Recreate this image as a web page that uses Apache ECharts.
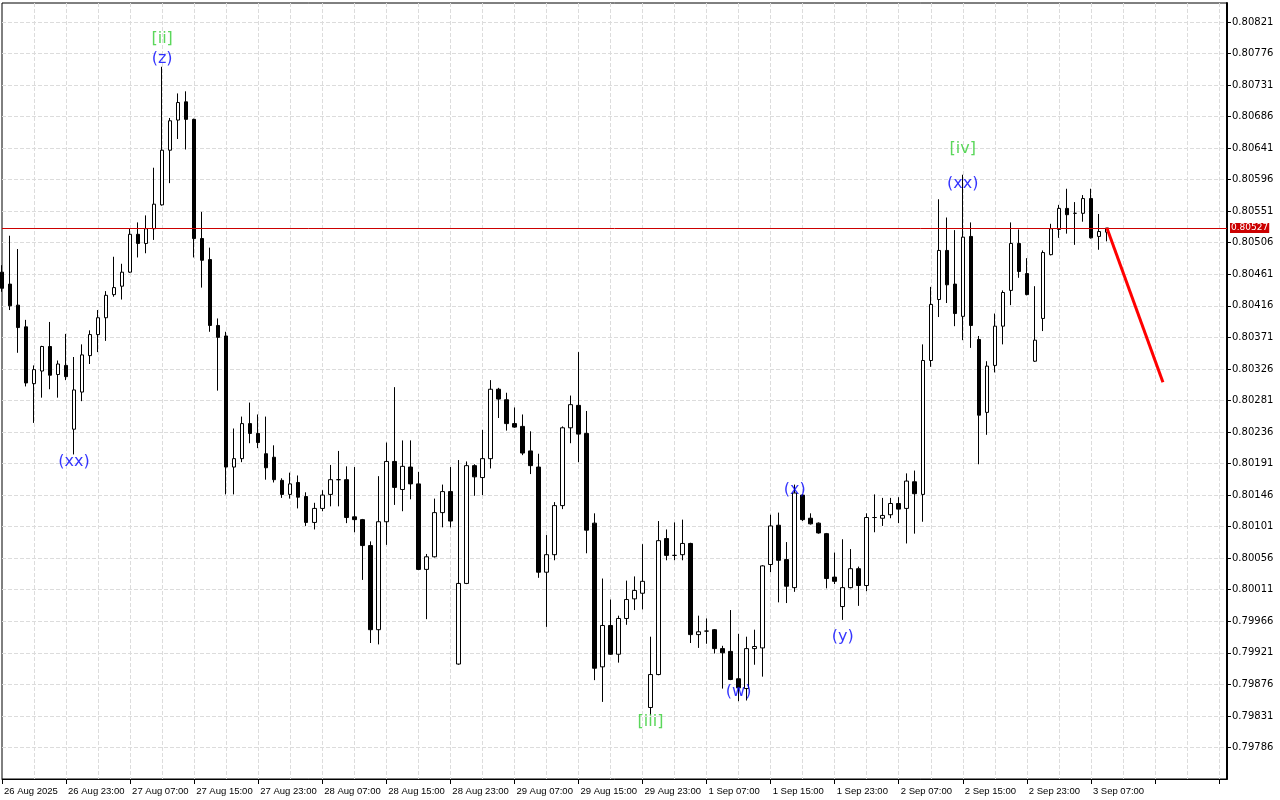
<!DOCTYPE html>
<html><head><meta charset="utf-8">
<script src="https://cdn.jsdelivr.net/npm/echarts@6/dist/echarts.min.js"></script>
<style>html,body{margin:0;padding:0;background:#fff}#chart{width:1280px;height:800px}</style>
</head><body><div id="chart"></div>
<script>
// ---- tick labels (one every 8 hourly bars) ----
const tickLabels = ['26 Aug 2025','26 Aug 23:00','27 Aug 07:00','27 Aug 15:00','27 Aug 23:00','28 Aug 07:00',
  '28 Aug 15:00','28 Aug 23:00','29 Aug 07:00','29 Aug 15:00','29 Aug 23:00','1 Sep 07:00','1 Sep 15:00',
  '1 Sep 23:00','2 Sep 07:00','2 Sep 15:00','2 Sep 23:00','3 Sep 07:00'];
const slotCount = 154; // hourly slots shown on the x axis (bars + empty space on the right)
const categories = Array.from({length: slotCount}, (_, i) => String(i));

// ---- OHLC (H1 bars) ----
const opens = [0.80464,0.80447,0.80417,0.80386,0.80305,0.80323,0.80358,0.80318,0.80331,0.80240,
0.80293,0.80345,0.80375,0.80399,0.80432,0.80444,0.80464,0.80518,0.80505,0.80526,
0.80560,0.80638,0.80681,0.80707,0.80682,0.80512,0.80482,0.80388,0.80373,0.80186,
0.80198,0.80248,0.80234,0.80205,0.80200,0.80167,0.80147,0.80164,0.80144,0.80107,
0.80127,0.80147,0.80168,0.80168,0.80115,0.80111,0.80074,0.79954,0.80108,0.80194,
0.80154,0.80186,0.80162,0.80040,0.80058,0.80121,0.80151,0.79905,0.80020,0.80188,
0.80171,0.80198,0.80297,0.80282,0.80248,0.80244,0.80209,0.80186,0.80036,0.80061,
0.80131,0.80242,0.80274,0.80234,0.80106,0.79901,0.79960,0.79919,0.79970,0.79998,
0.80006,0.79843,0.79890,0.80084,0.80060,0.80061,0.80077,0.79947,0.79952,0.79954,
0.79927,0.79923,0.79884,0.79870,0.79927,0.79928,0.80047,0.80103,0.80054,0.80014,
0.80146,0.80113,0.80106,0.80091,0.80029,0.79987,0.80014,0.80041,0.80017,0.80114,
0.80113,0.80118,0.80134,0.80127,0.80165,0.80147,0.80338,0.80425,0.80495,0.80447,
0.80401,0.80515,0.80368,0.80264,0.80331,0.80387,0.80438,0.80505,0.80462,0.80337,
0.80398,0.80489,0.80525,0.80555,0.80548,0.80548,0.80569,0.80515,0.80521];
const highs = [0.80474,0.80516,0.80497,0.80396,0.80331,0.80359,0.80393,0.80338,0.80376,0.80343,
0.80361,0.80381,0.80410,0.80437,0.80486,0.80476,0.80526,0.80535,0.80545,0.80613,
0.80757,0.80684,0.80719,0.80722,0.80683,0.80550,0.80499,0.80398,0.80379,0.80241,
0.80258,0.80278,0.80261,0.80258,0.80217,0.80170,0.80178,0.80174,0.80150,0.80135,
0.80153,0.80189,0.80209,0.80187,0.80186,0.80112,0.80080,0.80173,0.80221,0.80300,
0.80224,0.80224,0.80179,0.80062,0.80141,0.80161,0.80186,0.80196,0.80194,0.80190,
0.80239,0.80310,0.80299,0.80292,0.80271,0.80261,0.80237,0.80205,0.80089,0.80136,
0.80244,0.80288,0.80350,0.80266,0.80120,0.80027,0.79997,0.79974,0.80024,0.80030,
0.80076,0.79944,0.80109,0.80097,0.80107,0.80111,0.80078,0.79974,0.79970,0.79955,
0.79931,0.79982,0.79948,0.79944,0.79954,0.80046,0.80118,0.80121,0.80079,0.80161,
0.80147,0.80120,0.80107,0.80092,0.80064,0.80083,0.80069,0.80044,0.80120,0.80147,
0.80142,0.80142,0.80143,0.80177,0.80181,0.80361,0.80443,0.80568,0.80542,0.80524,
0.80603,0.80535,0.80373,0.80337,0.80405,0.80438,0.80535,0.80525,0.80484,0.80444,
0.80495,0.80533,0.80560,0.80583,0.80564,0.80574,0.80583,0.80547,0.80527];
const lows = [0.80436,0.80410,0.80349,0.80301,0.80249,0.80285,0.80297,0.80285,0.80310,0.80204,
0.80280,0.80333,0.80350,0.80366,0.80429,0.80425,0.80463,0.80485,0.80491,0.80510,
0.80559,0.80591,0.80654,0.80639,0.80485,0.80442,0.80379,0.80295,0.80147,0.80147,
0.80193,0.80220,0.80213,0.80168,0.80164,0.80142,0.80141,0.80127,0.80102,0.80097,
0.80123,0.80130,0.80130,0.80106,0.80093,0.80025,0.79935,0.79933,0.80075,0.80132,
0.80123,0.80140,0.80039,0.79969,0.80057,0.80100,0.80100,0.79904,0.80019,0.80145,
0.80146,0.80184,0.80256,0.80238,0.80242,0.80203,0.80176,0.80028,0.79958,0.80053,
0.80126,0.80220,0.80193,0.80063,0.79882,0.79851,0.79918,0.79907,0.79961,0.79982,
0.79983,0.79832,0.79889,0.80053,0.80053,0.80053,0.79935,0.79928,0.79934,0.79920,
0.79870,0.79882,0.79852,0.79853,0.79904,0.79887,0.80036,0.79993,0.79992,0.80008,
0.80109,0.80104,0.80091,0.80013,0.80019,0.79968,0.80013,0.79988,0.80009,0.80093,
0.80102,0.80113,0.80106,0.80077,0.80091,0.80108,0.80329,0.80400,0.80420,0.80387,
0.80367,0.80356,0.80190,0.80232,0.80321,0.80361,0.80417,0.80456,0.80431,0.80336,
0.80380,0.80488,0.80513,0.80519,0.80503,0.80536,0.80512,0.80496,0.80508];
const closes = [0.80441,0.80416,0.80385,0.80306,0.80325,0.80358,0.80317,0.80333,0.80315,0.80296,
0.80346,0.80375,0.80399,0.80431,0.80442,0.80464,0.80518,0.80505,0.80526,0.80561,
0.80638,0.80680,0.80706,0.80682,0.80512,0.80481,0.80388,0.80371,0.80186,0.80198,
0.80248,0.80234,0.80221,0.80185,0.80168,0.80147,0.80162,0.80143,0.80107,0.80127,
0.80146,0.80168,0.80168,0.80114,0.80111,0.80074,0.79954,0.80108,0.80194,0.80157,
0.80187,0.80162,0.80040,0.80058,0.80121,0.80151,0.80109,0.80020,0.80188,0.80172,
0.80198,0.80297,0.80283,0.80248,0.80243,0.80206,0.80188,0.80036,0.80061,0.80131,
0.80242,0.80275,0.80233,0.80096,0.79899,0.79960,0.79919,0.79970,0.79997,0.80010,
0.80023,0.79890,0.80081,0.80060,0.80060,0.80077,0.79947,0.79951,0.79952,0.79927,
0.79921,0.79883,0.79871,0.79927,0.79930,0.80045,0.80102,0.80053,0.80016,0.80149,
0.80111,0.80105,0.80092,0.80027,0.80023,0.80014,0.80041,0.80017,0.80114,0.80114,
0.80117,0.80134,0.80126,0.80166,0.80148,0.80338,0.80418,0.80495,0.80446,0.80405,
0.80514,0.80388,0.80260,0.80330,0.80387,0.80435,0.80505,0.80465,0.80432,0.80367,
0.80492,0.80526,0.80555,0.80546,0.80548,0.80569,0.80513,0.80522,0.80527];

// ---- wave annotations ----
const waveText  = ['[ii]','(z)','(xx)','[iii]','(w)','(x)','(y)','[iv]','(xx)'];
const waveIndex = [20, 20, 9, 81, 92, 99, 105, 120, 120];
const wavePrice = [0.80797,0.80768,0.80193,0.79822,0.79866,0.80153,0.79944,0.80640,0.80590];
const waveColor = ['#32cd32','#0000ff','#0000ff','#32cd32','#0000ff','#0000ff','#0000ff','#32cd32','#0000ff'];

// ---- projected move ----
const projectionIndex = [138, 145];
const projectionPrice = [0.80527, 0.80307];

// ---- price axis ----
const axisBase = 0.79741, axisTop = 0.80848, axisStep = 0.00045;
const toV = p => Math.round((p - axisBase) * 1e5);
const fmt = v => (v / 1e5 + axisBase).toFixed(5);

const candleData = opens.map((o, i) => [toV(o), toV(closes[i]), toV(lows[i]), toV(highs[i])]);
const lastClose = closes[closes.length - 1];

const chart = echarts.init(document.getElementById('chart'), null, {renderer: 'canvas'});
chart.setOption({
  animation: false,
  backgroundColor: '#ffffff',
  grid: {left: 2, top: 3, right: 53, bottom: 21, show: true, borderColor: '#000', borderWidth: 1, backgroundColor: 'transparent'},
  xAxis: {
    type: 'category', data: categories, boundaryGap: false,
    axisLine: {lineStyle: {color: '#000', width: 1}},
    axisTick: {interval: i => i % 8 === 0, length: 5, lineStyle: {color: '#000'}},
    axisLabel: {
      interval: i => i % 8 === 0 && i / 8 < tickLabels.length,
      formatter: (v, i) => tickLabels[i / 8] || '',
      align: 'left', margin: 7, padding: [0, 0, 0, 2],
      color: '#000', fontSize: 9.5, fontFamily: 'Liberation Sans'
    },
    splitLine: {show: true, interval: i => i > 0 && i % 4 === 0, lineStyle: {color: '#dcdcdc', type: [4, 2], width: 1}}
  },
  yAxis: {
    type: 'value', position: 'right', min: 0, max: toV(axisTop), interval: Math.round(axisStep * 1e5),
    axisLine: {show: true, lineStyle: {color: '#000', width: 2}},
    axisTick: {show: true, length: 4, lineStyle: {color: '#000'}},
    axisLabel: {formatter: fmt, margin: 5, color: '#000', fontSize: 10, fontFamily: 'DejaVu Sans', showMinLabel: false, showMaxLabel: false},
    splitLine: {show: true, showMinLine: false, showMaxLine: false, lineStyle: {color: '#dcdcdc', type: [4, 2], width: 1}}
  },
  series: [
    {
      type: 'candlestick', data: candleData, barWidth: 4,
      itemStyle: {color: '#ffffff', color0: '#000000', borderColor: '#000000', borderColor0: '#000000', borderColorDoji: '#000000', borderWidth: 1},
      markLine: {
        silent: true, symbol: ['none', 'none'], animation: false,
        lineStyle: {color: '#cc0000', width: 1, type: 'solid'},
        label: {position: 'end', distance: 3, formatter: () => lastClose.toFixed(5),
          backgroundColor: '#cc0000', color: '#ffffff', fontSize: 9, fontFamily: 'DejaVu Sans', padding: [1, 1, 0, 1]},
        data: [{yAxis: toV(lastClose)}]
      }
    },
    {
      type: 'line', data: projectionIndex.map((x, i) => [x, toV(projectionPrice[i])]),
      symbol: 'none', lineStyle: {color: '#ff0000', width: 3}, silent: true, z: 5
    },
    {
      type: 'scatter', symbolSize: 1, itemStyle: {color: 'rgba(0,0,0,0)'}, silent: true, z: 6,
      data: waveText.map((t, i) => ({
        value: [waveIndex[i], toV(wavePrice[i])],
        label: {show: true, position: 'inside', formatter: t, color: waveColor[i], fontSize: 16, fontFamily: 'DejaVu Sans'}
      }))
    }
  ]
});
</script></body></html>
